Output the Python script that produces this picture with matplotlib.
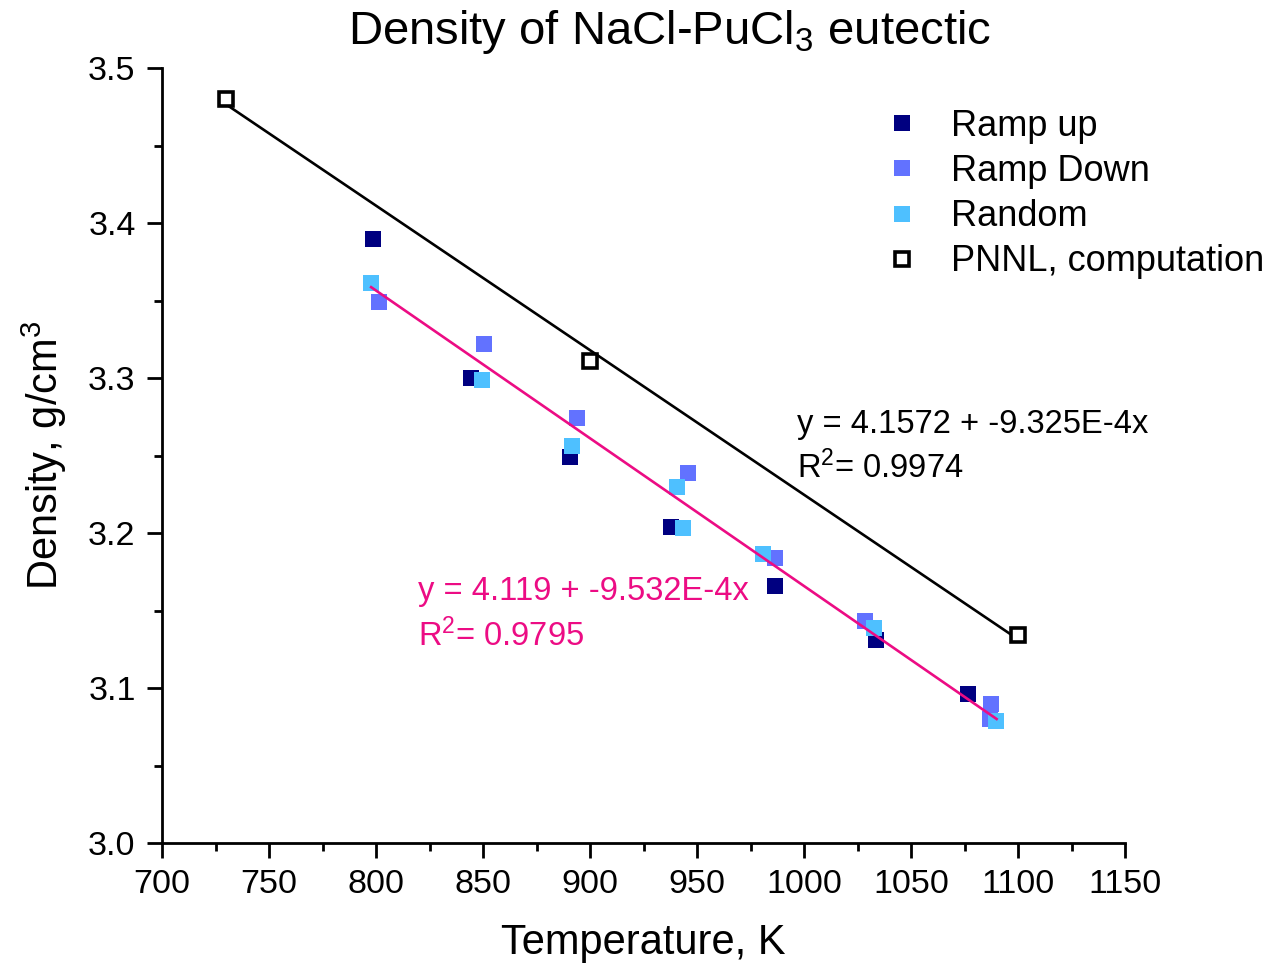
import numpy as np
import matplotlib
matplotlib.use("Agg")
import matplotlib.pyplot as plt

plt.rcParams["font.family"] = ["Liberation Sans", "DejaVu Sans"]
plt.rcParams["mathtext.fontset"] = "custom"
plt.rcParams["mathtext.rm"] = "Liberation Sans"
plt.rcParams["mathtext.it"] = "Liberation Sans:italic"

ramp_up_T = [798.7, 844.4, 890.7, 937.7, 986.6, 1033.6, 1076.6]
ramp_up_rho = [3.390, 3.300, 3.249, 3.204, 3.166, 3.131, 3.096]

ramp_down_T = [801.4, 850.5, 893.8, 945.6, 986.6, 1028.7, 1087.4, 1087.0]
ramp_down_rho = [3.349, 3.322, 3.274, 3.2385, 3.184, 3.143, 3.090, 3.080]

random_T = [797.7, 849.7, 891.7, 940.8, 943.6, 980.7, 1032.9, 1089.7]
random_rho = [3.361, 3.299, 3.256, 3.230, 3.203, 3.1865, 3.1385, 3.079]

pnnl_T = [730, 900, 1100]
pnnl_rho = [3.480, 3.311, 3.134]

# lineaire fits zoals in de figuur vermeld
fit_pnnl = (4.1572, -9.325e-4)
fit_exp = (4.119, -9.532e-4)
fit_exp_range = (797.7, 1090.0)

c_up = "#000080"
c_down = "#6272FF"
c_rand = "#4EC0FF"
c_pink = "#EC0C84"

fig = plt.figure(figsize=(12.78, 9.65), dpi=100)
ax = fig.add_axes([0.1268, 0.1264, 0.7535, 0.8031])

# fitlijnen
t1 = np.array([min(pnnl_T), max(pnnl_T)])
ax.plot(t1, fit_pnnl[0] + fit_pnnl[1] * t1, color="black", lw=1.9, zorder=2)
t2 = np.array(fit_exp_range)
ax.plot(t2, fit_exp[0] + fit_exp[1] * t2, color=c_pink, lw=1.9, zorder=4)

ms = 12
ax.plot(ramp_up_T, ramp_up_rho, "s", color=c_up, ms=ms, mew=0, label="Ramp up", zorder=3)
ax.plot(ramp_down_T, ramp_down_rho, "s", color=c_down, ms=ms, mew=0, label="Ramp Down", zorder=3)
ax.plot(random_T, random_rho, "s", color=c_rand, ms=ms, mew=0, label="Random", zorder=3)
ax.plot(pnnl_T, pnnl_rho, "s", mfc="white", mec="black", ms=10, mew=2.6,
        label="PNNL, computation", zorder=5)

ax.set_xlim(700, 1150)
ax.set_ylim(3.0, 3.5)
ax.set_xticks(np.arange(700, 1151, 50))
ax.set_xticks(np.arange(725, 1150, 50), minor=True)
ax.set_yticks(np.arange(3.0, 3.51, 0.1))
ax.set_yticks(np.arange(3.05, 3.5, 0.1), minor=True)
ax.set_yticklabels([f"{v:.1f}" for v in np.arange(3.0, 3.51, 0.1)])

for side in ["top", "right"]:
    ax.spines[side].set_visible(False)
for side in ["left", "bottom"]:
    ax.spines[side].set_linewidth(2.0)
ax.tick_params(which="major", direction="out", length=11, width=2, labelsize=24.5, pad=8)
ax.tick_params(which="minor", direction="out", length=5.5, width=2)

ax.set_xlabel("Temperature, K", fontsize=30, labelpad=16)
ax.set_ylabel("Density, g/cm$^3$", fontsize=30, labelpad=14)
fig.text(670 / 1278, 1 - 44 / 965, "Density of NaCl-PuCl$_3$ eutectic",
         fontsize=34, ha="center", va="baseline")

ax.text(996.5, 3.270, "y = 4.1572 + -9.325E-4x", fontsize=23.5, va="center")
ax.text(996.5, 3.242, "R$^2$= 0.9974", fontsize=23.5, va="center")
ax.text(819.5, 3.162, "y = 4.119 + -9.532E-4x", fontsize=23.5, va="center", color=c_pink)
ax.text(819.5, 3.1335, "R$^2$= 0.9795", fontsize=23.5, va="center", color=c_pink)

leg = fig.legend(loc="upper left", bbox_to_anchor=(0.683, 0.902), frameon=False,
                 fontsize=26, numpoints=1, handlelength=0.8, handletextpad=0.95,
                 labelspacing=0.28, borderaxespad=0, markerscale=1.0)

fig.savefig("out.png", dpi=100)
